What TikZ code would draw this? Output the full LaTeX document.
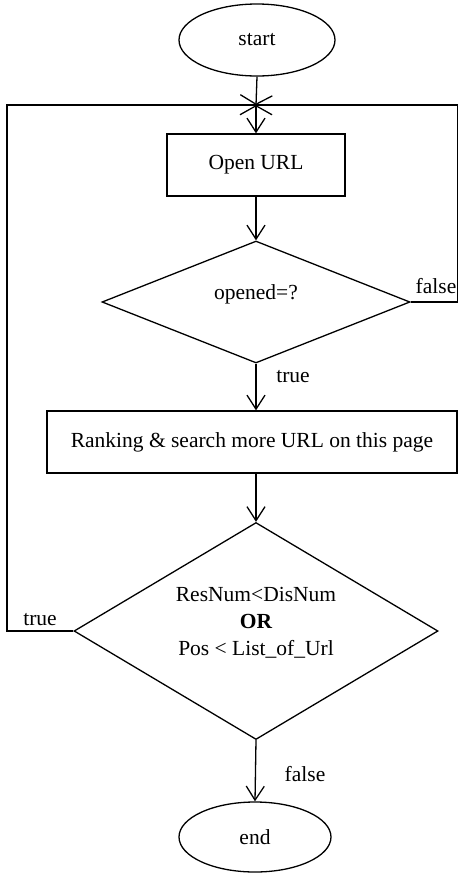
\documentclass[tikz,border=0pt]{standalone}
\usepackage{fontspec}
\setmainfont{Liberation Serif}
\usetikzlibrary{shapes.geometric,arrows.meta}
\begin{document}
\begin{tikzpicture}[x=1pt,y=-1pt,line width=1.3pt,
  every node/.style={font=\fontsize{21.5}{27}\selectfont},
  term/.style={draw,ellipse,inner sep=0pt},
  proc/.style={draw,rectangle,inner sep=0pt},
  dia/.style={draw,diamond,inner sep=0pt,aspect=2.5},
  arr/.style={-{Straight Barb[length=14pt,width=18pt]}},
  xarr/.style={-{Straight Barb[length=9pt,width=32pt]}},
  lbl/.style={inner sep=0pt}]
\useasboundingbox (0,0) rectangle (459,873);
\node[term,minimum width=156pt,minimum height=72pt] (start) at (257,40) {start};
\coordinate (j) at (256,105);
\coordinate (jb) at (256,106);
\coordinate (tl) at (7,105);
\coordinate (tr) at (457.5,105);
\node[proc,minimum width=178pt,minimum height=62pt] (open) at (256,165) {Open URL};
\node[dia,minimum width=308pt,minimum height=122pt] (d1) at (256,302) {\raisebox{20pt}{opened=?}};
\node[proc,minimum width=410pt,minimum height=62pt] (rank) at (252,442) {Ranking \& search more URL on this page};
\node[dia,minimum width=364pt,minimum height=217pt,
  label={[align=center,yshift=8pt]center:ResNum<DisNum\\\textbf{OR}\\Pos < List\_of\_Url}] (d2) at (256,631) {};
\node[term,minimum width=152pt,minimum height=70pt] (end) at (255,837) {end};
% connectors
\draw[xarr] (start.south) -- (j);
\draw[xarr] (jb) -- (j);
\draw[arr] (j) -- (open.north);
\draw[arr] (open.south) -- (d1.north);
\draw[arr] (d1.south) -- (d1.south |- rank.north);
\draw[arr] (d1.south |- rank.south) -- (d2.north);
\draw[arr] (d2.south) -- (end.north);
\draw (d1.east) -| (tr) -- (j);
\draw (d2.west) -| (tl) -- (j);
% labels
\node[lbl] (lf1) at (436,286) {false};
\node[lbl] (lt1) at (293,377) {true};
\node[lbl] (lt2) at (40,620) {true};
\node[lbl] (lf2) at (305,774) {false};
\end{tikzpicture}
\end{document}
